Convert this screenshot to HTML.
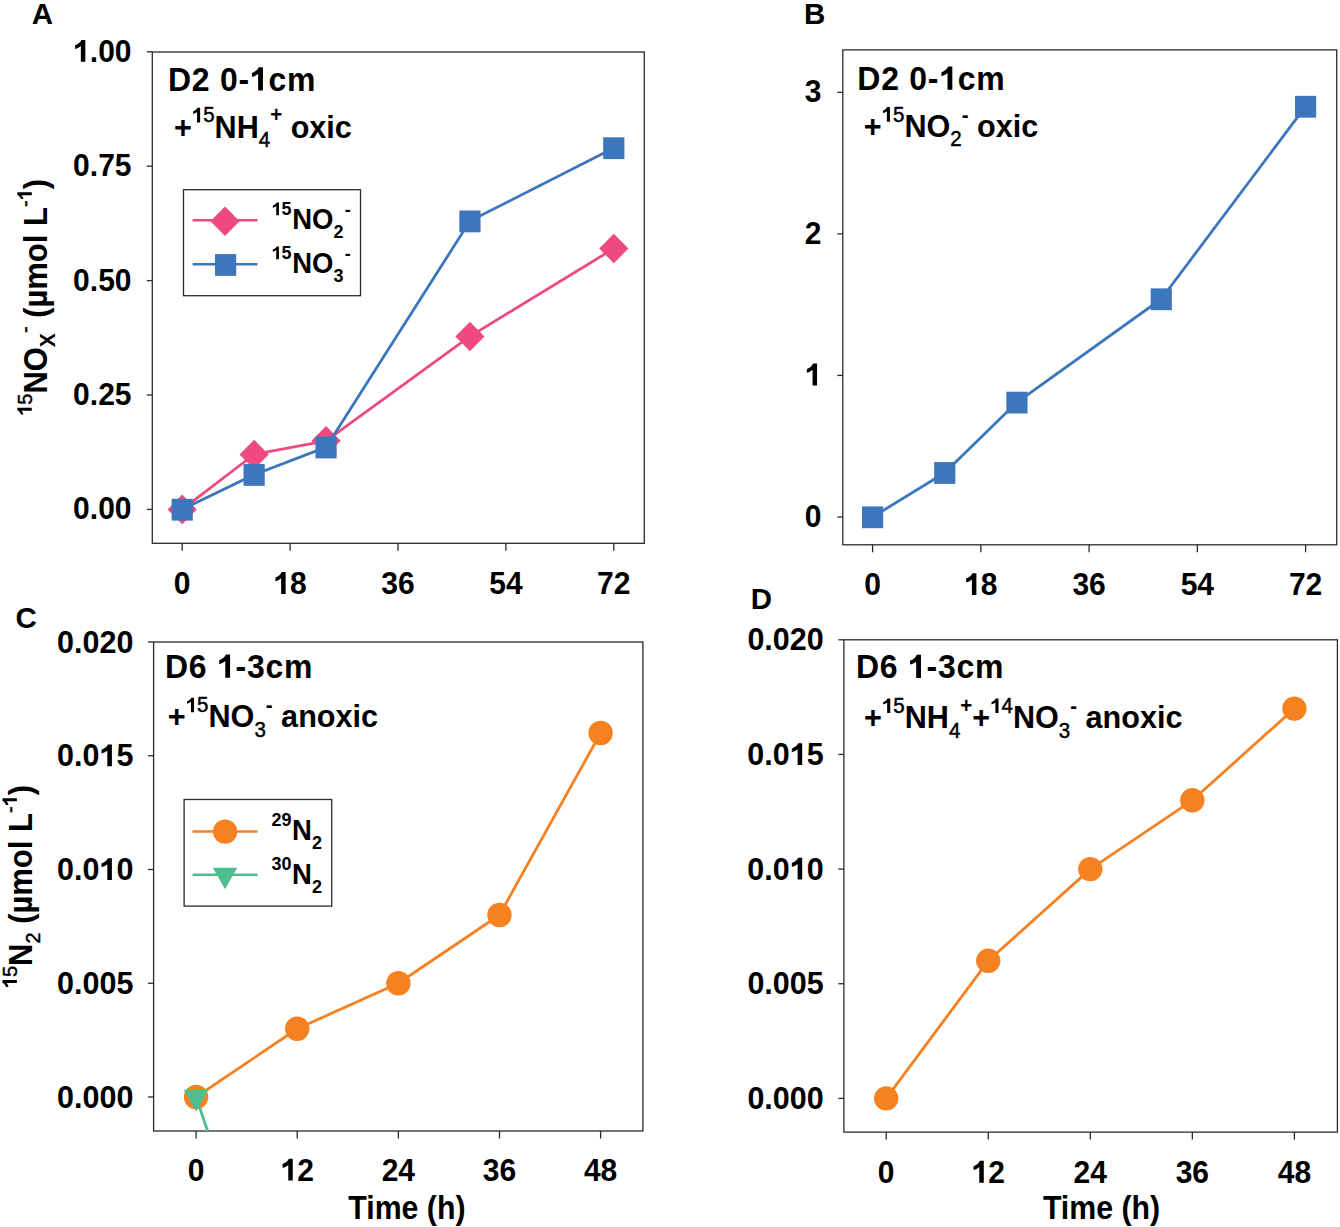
<!DOCTYPE html>
<html><head><meta charset="utf-8"><style>html,body{margin:0;padding:0;background:#fff;}svg{display:block;}text{font-family:"Liberation Sans",sans-serif;fill:#000;}.b{font-weight:bold;}.r{font-weight:normal;stroke:#000;stroke-width:0.45px;}.one{fill-opacity:0;stroke-opacity:0;}</style></head><body>
<svg width="1340" height="1227" viewBox="0 0 1340 1227">
<rect width="1340" height="1227" fill="#fff"></rect>
<defs>
<clipPath id="cA"><rect x="152.3" y="52" width="492" height="491.3"></rect></clipPath>
<clipPath id="cB"><rect x="842.8" y="49.9" width="493.9" height="494.9"></rect></clipPath>
<clipPath id="cC"><rect x="153.6" y="642" width="489.3" height="489"></rect></clipPath>
<clipPath id="cD"><rect x="843.9" y="639.8" width="493.5" height="492.3"></rect></clipPath>
</defs>
<text transform="translate(31.8,24.0) scale(1,1.03)" class="b" font-size="29.5">A</text>
<text transform="translate(804.0,23.9) scale(1,1.03)" class="b" font-size="29.5">B</text>
<text transform="translate(15.6,627.9) scale(1,1.03)" class="b" font-size="29.5">C</text>
<text transform="translate(750.8,609.3) scale(1,1.03)" class="b" font-size="29.5">D</text>
<rect x="152.3" y="52" width="492" height="491.3" fill="none" stroke="#2a2a2a" stroke-width="1.3"></rect>
<line x1="146.8" y1="509.4" x2="152.3" y2="509.4" stroke="#2a2a2a" stroke-width="1.3"></line>
<text transform="translate(131.5,519.4) scale(1,1.06)" text-anchor="end" class="b" font-size="30">0.00</text>
<line x1="146.8" y1="395" x2="152.3" y2="395" stroke="#2a2a2a" stroke-width="1.3"></line>
<text transform="translate(131.5,405) scale(1,1.06)" text-anchor="end" class="b" font-size="30">0.25</text>
<line x1="146.8" y1="280.6" x2="152.3" y2="280.6" stroke="#2a2a2a" stroke-width="1.3"></line>
<text transform="translate(131.5,290.6) scale(1,1.06)" text-anchor="end" class="b" font-size="30">0.50</text>
<line x1="146.8" y1="166.2" x2="152.3" y2="166.2" stroke="#2a2a2a" stroke-width="1.3"></line>
<text transform="translate(131.5,176.2) scale(1,1.06)" text-anchor="end" class="b" font-size="30">0.75</text>
<line x1="146.8" y1="51.8" x2="152.3" y2="51.8" stroke="#2a2a2a" stroke-width="1.3"></line>
<text transform="translate(131.5,61.8) scale(1,1.06)" text-anchor="end" class="b" font-size="30"><tspan class="one">1</tspan>.00</text>
<line x1="182.2" y1="543.3" x2="182.2" y2="550.8" stroke="#2a2a2a" stroke-width="1.3"></line>
<text transform="translate(182.2,594) scale(1,1.06)" text-anchor="middle" class="b" font-size="30">0</text>
<line x1="290.1" y1="543.3" x2="290.1" y2="550.8" stroke="#2a2a2a" stroke-width="1.3"></line>
<text transform="translate(290.1,594) scale(1,1.06)" text-anchor="middle" class="b" font-size="30"><tspan class="one">1</tspan>8</text>
<line x1="398" y1="543.3" x2="398" y2="550.8" stroke="#2a2a2a" stroke-width="1.3"></line>
<text transform="translate(398,594) scale(1,1.06)" text-anchor="middle" class="b" font-size="30">36</text>
<line x1="505.9" y1="543.3" x2="505.9" y2="550.8" stroke="#2a2a2a" stroke-width="1.3"></line>
<text transform="translate(505.9,594) scale(1,1.06)" text-anchor="middle" class="b" font-size="30">54</text>
<line x1="613.8" y1="543.3" x2="613.8" y2="550.8" stroke="#2a2a2a" stroke-width="1.3"></line>
<text transform="translate(613.8,594) scale(1,1.06)" text-anchor="middle" class="b" font-size="30">72</text>
<rect x="842.8" y="49.9" width="493.9" height="494.9" fill="none" stroke="#2a2a2a" stroke-width="1.3"></rect>
<line x1="837.3" y1="517" x2="842.8" y2="517" stroke="#2a2a2a" stroke-width="1.3"></line>
<text transform="translate(821.5,527) scale(1,1.06)" text-anchor="end" class="b" font-size="30">0</text>
<line x1="837.3" y1="375.43" x2="842.8" y2="375.43" stroke="#2a2a2a" stroke-width="1.3"></line>
<text transform="translate(821.5,385.43) scale(1,1.06)" text-anchor="end" class="b" font-size="30"><tspan class="one">1</tspan></text>
<line x1="837.3" y1="233.87" x2="842.8" y2="233.87" stroke="#2a2a2a" stroke-width="1.3"></line>
<text transform="translate(821.5,243.87) scale(1,1.06)" text-anchor="end" class="b" font-size="30">2</text>
<line x1="837.3" y1="92.3" x2="842.8" y2="92.3" stroke="#2a2a2a" stroke-width="1.3"></line>
<text transform="translate(821.5,102.3) scale(1,1.06)" text-anchor="end" class="b" font-size="30">3</text>
<line x1="872.6" y1="544.8" x2="872.6" y2="552.3" stroke="#2a2a2a" stroke-width="1.3"></line>
<text transform="translate(872.6,595.1) scale(1,1.06)" text-anchor="middle" class="b" font-size="30">0</text>
<line x1="980.85" y1="544.8" x2="980.85" y2="552.3" stroke="#2a2a2a" stroke-width="1.3"></line>
<text transform="translate(980.85,595.1) scale(1,1.06)" text-anchor="middle" class="b" font-size="30"><tspan class="one">1</tspan>8</text>
<line x1="1089.1" y1="544.8" x2="1089.1" y2="552.3" stroke="#2a2a2a" stroke-width="1.3"></line>
<text transform="translate(1089.1,595.1) scale(1,1.06)" text-anchor="middle" class="b" font-size="30">36</text>
<line x1="1197.35" y1="544.8" x2="1197.35" y2="552.3" stroke="#2a2a2a" stroke-width="1.3"></line>
<text transform="translate(1197.35,595.1) scale(1,1.06)" text-anchor="middle" class="b" font-size="30">54</text>
<line x1="1305.6" y1="544.8" x2="1305.6" y2="552.3" stroke="#2a2a2a" stroke-width="1.3"></line>
<text transform="translate(1305.6,595.1) scale(1,1.06)" text-anchor="middle" class="b" font-size="30">72</text>
<rect x="153.6" y="642" width="489.3" height="489" fill="none" stroke="#2a2a2a" stroke-width="1.3"></rect>
<line x1="148.1" y1="1097" x2="153.6" y2="1097" stroke="#2a2a2a" stroke-width="1.3"></line>
<text transform="translate(133.4,1107.5) scale(1,1.04)" text-anchor="end" class="b" font-size="30.5">0.000</text>
<line x1="148.1" y1="983.25" x2="153.6" y2="983.25" stroke="#2a2a2a" stroke-width="1.3"></line>
<text transform="translate(133.4,993.75) scale(1,1.04)" text-anchor="end" class="b" font-size="30.5">0.005</text>
<line x1="148.1" y1="869.5" x2="153.6" y2="869.5" stroke="#2a2a2a" stroke-width="1.3"></line>
<text transform="translate(133.4,880) scale(1,1.04)" text-anchor="end" class="b" font-size="30.5">0.0<tspan class="one">1</tspan>0</text>
<line x1="148.1" y1="755.75" x2="153.6" y2="755.75" stroke="#2a2a2a" stroke-width="1.3"></line>
<text transform="translate(133.4,766.25) scale(1,1.04)" text-anchor="end" class="b" font-size="30.5">0.0<tspan class="one">1</tspan>5</text>
<line x1="148.1" y1="642" x2="153.6" y2="642" stroke="#2a2a2a" stroke-width="1.3"></line>
<text transform="translate(133.4,652.5) scale(1,1.04)" text-anchor="end" class="b" font-size="30.5">0.020</text>
<line x1="196.1" y1="1131" x2="196.1" y2="1138.5" stroke="#2a2a2a" stroke-width="1.3"></line>
<text transform="translate(196.1,1180.6) scale(1,1.06)" text-anchor="middle" class="b" font-size="30">0</text>
<line x1="297.23" y1="1131" x2="297.23" y2="1138.5" stroke="#2a2a2a" stroke-width="1.3"></line>
<text transform="translate(297.23,1180.6) scale(1,1.06)" text-anchor="middle" class="b" font-size="30"><tspan class="one">1</tspan>2</text>
<line x1="398.35" y1="1131" x2="398.35" y2="1138.5" stroke="#2a2a2a" stroke-width="1.3"></line>
<text transform="translate(398.35,1180.6) scale(1,1.06)" text-anchor="middle" class="b" font-size="30">24</text>
<line x1="499.48" y1="1131" x2="499.48" y2="1138.5" stroke="#2a2a2a" stroke-width="1.3"></line>
<text transform="translate(499.48,1180.6) scale(1,1.06)" text-anchor="middle" class="b" font-size="30">36</text>
<line x1="600.6" y1="1131" x2="600.6" y2="1138.5" stroke="#2a2a2a" stroke-width="1.3"></line>
<text transform="translate(600.6,1180.6) scale(1,1.06)" text-anchor="middle" class="b" font-size="30">48</text>
<rect x="843.9" y="639.8" width="493.5" height="492.3" fill="none" stroke="#2a2a2a" stroke-width="1.3"></rect>
<line x1="838.4" y1="1098.4" x2="843.9" y2="1098.4" stroke="#2a2a2a" stroke-width="1.3"></line>
<text transform="translate(823.7,1108.9) scale(1,1.04)" text-anchor="end" class="b" font-size="30.5">0.000</text>
<line x1="838.4" y1="983.75" x2="843.9" y2="983.75" stroke="#2a2a2a" stroke-width="1.3"></line>
<text transform="translate(823.7,994.25) scale(1,1.04)" text-anchor="end" class="b" font-size="30.5">0.005</text>
<line x1="838.4" y1="869.1" x2="843.9" y2="869.1" stroke="#2a2a2a" stroke-width="1.3"></line>
<text transform="translate(823.7,879.6) scale(1,1.04)" text-anchor="end" class="b" font-size="30.5">0.0<tspan class="one">1</tspan>0</text>
<line x1="838.4" y1="754.45" x2="843.9" y2="754.45" stroke="#2a2a2a" stroke-width="1.3"></line>
<text transform="translate(823.7,764.95) scale(1,1.04)" text-anchor="end" class="b" font-size="30.5">0.0<tspan class="one">1</tspan>5</text>
<line x1="838.4" y1="639.8" x2="843.9" y2="639.8" stroke="#2a2a2a" stroke-width="1.3"></line>
<text transform="translate(823.7,650.3) scale(1,1.04)" text-anchor="end" class="b" font-size="30.5">0.020</text>
<line x1="886.2" y1="1132.1" x2="886.2" y2="1139.6" stroke="#2a2a2a" stroke-width="1.3"></line>
<text transform="translate(886.2,1182.7) scale(1,1.06)" text-anchor="middle" class="b" font-size="30">0</text>
<line x1="988.25" y1="1132.1" x2="988.25" y2="1139.6" stroke="#2a2a2a" stroke-width="1.3"></line>
<text transform="translate(988.25,1182.7) scale(1,1.06)" text-anchor="middle" class="b" font-size="30"><tspan class="one">1</tspan>2</text>
<line x1="1090.3" y1="1132.1" x2="1090.3" y2="1139.6" stroke="#2a2a2a" stroke-width="1.3"></line>
<text transform="translate(1090.3,1182.7) scale(1,1.06)" text-anchor="middle" class="b" font-size="30">24</text>
<line x1="1192.35" y1="1132.1" x2="1192.35" y2="1139.6" stroke="#2a2a2a" stroke-width="1.3"></line>
<text transform="translate(1192.35,1182.7) scale(1,1.06)" text-anchor="middle" class="b" font-size="30">36</text>
<line x1="1294.4" y1="1132.1" x2="1294.4" y2="1139.6" stroke="#2a2a2a" stroke-width="1.3"></line>
<text transform="translate(1294.4,1182.7) scale(1,1.06)" text-anchor="middle" class="b" font-size="30">48</text>
<polyline points="182.2,509.4 254.13,454.49 326.07,440.76 469.93,336.43 613.8,248.57" fill="none" stroke="#EE4A80" stroke-width="2.8" stroke-linejoin="round"></polyline>
<path d="M182.2,494.6 L196.8,509.4 L182.2,524.2 L167.6,509.4 Z" fill="#EE4A80"></path>
<path d="M254.13,439.69 L268.73,454.49 L254.13,469.29 L239.53,454.49 Z" fill="#EE4A80"></path>
<path d="M326.07,425.96 L340.67,440.76 L326.07,455.56 L311.47,440.76 Z" fill="#EE4A80"></path>
<path d="M469.93,321.63 L484.53,336.43 L469.93,351.23 L455.33,336.43 Z" fill="#EE4A80"></path>
<path d="M613.8,233.77 L628.4,248.57 L613.8,263.37 L599.2,248.57 Z" fill="#EE4A80"></path>
<polyline points="182.2,509.4 254.13,474.62 326.07,447.17 469.93,221.11 613.8,147.9" fill="none" stroke="#3C76BD" stroke-width="2.8" stroke-linejoin="round"></polyline>
<rect x="171.6" y="498.8" width="21.2" height="21.8" fill="#3C76BD"></rect>
<rect x="243.53" y="464.02" width="21.2" height="21.8" fill="#3C76BD"></rect>
<rect x="315.47" y="436.57" width="21.2" height="21.8" fill="#3C76BD"></rect>
<rect x="459.33" y="210.51" width="21.2" height="21.8" fill="#3C76BD"></rect>
<rect x="603.2" y="137.3" width="21.2" height="21.8" fill="#3C76BD"></rect>
<polyline points="872.6,517 944.77,472.69 1016.93,402.33 1161.27,298.99 1305.6,106.46" fill="none" stroke="#3C76BD" stroke-width="2.8" stroke-linejoin="round"></polyline>
<rect x="862" y="506.4" width="21.2" height="21.8" fill="#3C76BD"></rect>
<rect x="934.17" y="462.09" width="21.2" height="21.8" fill="#3C76BD"></rect>
<rect x="1006.33" y="391.73" width="21.2" height="21.8" fill="#3C76BD"></rect>
<rect x="1150.67" y="288.39" width="21.2" height="21.8" fill="#3C76BD"></rect>
<rect x="1295" y="95.86" width="21.2" height="21.8" fill="#3C76BD"></rect>
<polyline points="196.1,1097 297.23,1028.75 398.35,983.25 499.48,915 600.6,733" fill="none" stroke="#F58120" stroke-width="2.8" stroke-linejoin="round"></polyline>
<circle cx="196.1" cy="1097" r="12.2" fill="#F58120"></circle>
<circle cx="297.23" cy="1028.75" r="12.2" fill="#F58120"></circle>
<circle cx="398.35" cy="983.25" r="12.2" fill="#F58120"></circle>
<circle cx="499.48" cy="915" r="12.2" fill="#F58120"></circle>
<circle cx="600.6" cy="733" r="12.2" fill="#F58120"></circle>
<polyline points="196.1,1097 297.23,1395.03" fill="none" stroke="#4FBE8F" stroke-width="2.8" stroke-linejoin="round" clip-path="url(#cC)"></polyline>
<path d="M183.9,1090 L208.3,1090 L196.1,1111.6 Z" fill="#4FBE8F"></path>
<polyline points="886.2,1098.4 988.25,960.82 1090.3,869.1 1192.35,800.31 1294.4,708.59" fill="none" stroke="#F58120" stroke-width="2.8" stroke-linejoin="round"></polyline>
<circle cx="886.2" cy="1098.4" r="12.2" fill="#F58120"></circle>
<circle cx="988.25" cy="960.82" r="12.2" fill="#F58120"></circle>
<circle cx="1090.3" cy="869.1" r="12.2" fill="#F58120"></circle>
<circle cx="1192.35" cy="800.31" r="12.2" fill="#F58120"></circle>
<circle cx="1294.4" cy="708.59" r="12.2" fill="#F58120"></circle>
<text transform="translate(167.9,90.5) scale(1,1.055)" class="b" font-size="32" letter-spacing="0.75"><tspan class="b" font-size="32">D2 0-<tspan class="one">1</tspan>cm</tspan></text>
<text transform="translate(173.9,137.5) scale(1,1.04)" class="b" font-size="30.6"><tspan class="b" font-size="30.6">+</tspan><tspan class="r" font-size="20.5" dy="-14.5"><tspan class="one">1</tspan>5</tspan><tspan class="b" font-size="30.6" dy="14.5">NH</tspan><tspan class="r" font-size="20.5" dy="9">4</tspan><tspan class="b" font-size="20.5" dy="-23.5">+</tspan><tspan class="b" font-size="30.6" dy="14.5"> oxic</tspan></text>
<text transform="translate(857.3,89.7) scale(1,1.055)" class="b" font-size="32" letter-spacing="0.75"><tspan class="b" font-size="32">D2 0-<tspan class="one">1</tspan>cm</tspan></text>
<text transform="translate(863.7,136.8) scale(1,1.04)" class="b" font-size="30.6"><tspan class="b" font-size="30.6">+</tspan><tspan class="r" font-size="20.5" dy="-14.5"><tspan class="one">1</tspan>5</tspan><tspan class="b" font-size="30.6" dy="14.5">NO</tspan><tspan class="r" font-size="20.5" dy="9">2</tspan><tspan class="b" font-size="20.5" dy="-23.5">-</tspan><tspan class="b" font-size="30.6" dy="14.5"> oxic</tspan></text>
<text transform="translate(165,677.7) scale(1,1.055)" class="b" font-size="32" letter-spacing="0.75"><tspan class="b" font-size="32">D6 <tspan class="one">1</tspan>-3cm</tspan></text>
<text transform="translate(167.8,727.4) scale(1,1.04)" class="b" font-size="30.6"><tspan class="b" font-size="30.6">+</tspan><tspan class="r" font-size="20.5" dy="-14.5"><tspan class="one">1</tspan>5</tspan><tspan class="b" font-size="30.6" dy="14.5">NO</tspan><tspan class="r" font-size="20.5" dy="9">3</tspan><tspan class="b" font-size="20.5" dy="-23.5">-</tspan><tspan class="b" font-size="30.6" dy="14.5"> anoxic</tspan></text>
<text transform="translate(855.9,678.1) scale(1,1.055)" class="b" font-size="32" letter-spacing="0.75"><tspan class="b" font-size="32">D6 <tspan class="one">1</tspan>-3cm</tspan></text>
<text transform="translate(864,728.2) scale(1,1.04)" class="b" font-size="30.6"><tspan class="b" font-size="30.6">+</tspan><tspan class="r" font-size="20.5" dy="-14.5"><tspan class="one">1</tspan>5</tspan><tspan class="b" font-size="30.6" dy="14.5">NH</tspan><tspan class="r" font-size="20.5" dy="9">4</tspan><tspan class="b" font-size="20.5" dy="-23.5">+</tspan><tspan class="b" font-size="30.6" dy="14.5">+</tspan><tspan class="r" font-size="20.5" dy="-14.5"><tspan class="one">1</tspan>4</tspan><tspan class="b" font-size="30.6" dy="14.5">NO</tspan><tspan class="r" font-size="20.5" dy="9">3</tspan><tspan class="b" font-size="20.5" dy="-23.5">-</tspan><tspan class="b" font-size="30.6" dy="14.5"> anoxic</tspan></text>
<rect x="183.5" y="189.7" width="177" height="106" fill="#fff" stroke="#2a2a2a" stroke-width="1.3"></rect>
<line x1="192.6" y1="220.3" x2="257.4" y2="220.3" stroke="#EE4A80" stroke-width="2.5"></line>
<path d="M225,206.4 L239.6,221.2 L225,236 L210.4,221.2 Z" fill="#EE4A80"></path>
<line x1="192.6" y1="264.3" x2="257.4" y2="264.3" stroke="#3C76BD" stroke-width="2.5"></line>
<rect x="215" y="254.1" width="21.2" height="21.8" fill="#3C76BD"></rect>
<text transform="translate(271.6,229.3) scale(1,1.04)" class="b" font-size="27.5"><tspan font-size="18" dy="-13.5"><tspan class="one">1</tspan>5</tspan><tspan dy="13.5" dx="0.6">NO</tspan><tspan font-size="18" dy="8.8">2</tspan><tspan font-size="18" dy="-21.3" dx="1.2">-</tspan></text>
<text transform="translate(271.6,273.3) scale(1,1.04)" class="b" font-size="27.5"><tspan font-size="18" dy="-13.5"><tspan class="one">1</tspan>5</tspan><tspan dy="13.5" dx="0.6">NO</tspan><tspan font-size="18" dy="8.8">3</tspan><tspan font-size="18" dy="-21.3" dx="1.2">-</tspan></text>
<rect x="184.1" y="799.5" width="147.6" height="106.6" fill="#fff" stroke="#2a2a2a" stroke-width="1.3"></rect>
<line x1="192.5" y1="831.6" x2="257.5" y2="831.6" stroke="#F58120" stroke-width="2.5"></line>
<circle cx="225.1" cy="831.6" r="12.2" fill="#F58120"></circle>
<line x1="192.5" y1="874.7" x2="257.5" y2="874.7" stroke="#4FBE8F" stroke-width="2.5"></line>
<path d="M212.8,867.7 L237.2,867.7 L225,889.3 Z" fill="#4FBE8F"></path>
<text transform="translate(271.4,840) scale(1,1.04)" class="b" font-size="27.5"><tspan font-size="18" dy="-13.5">29</tspan><tspan dy="13.5" dx="0.6">N</tspan><tspan font-size="18" dy="8.8">2</tspan></text>
<text transform="translate(271.4,883.8) scale(1,1.04)" class="b" font-size="27.5"><tspan font-size="18" dy="-13.5">30</tspan><tspan dy="13.5" dx="0.6">N</tspan><tspan font-size="18" dy="8.8">2</tspan></text>
<text transform="translate(46.5,297.4) rotate(-90) scale(1,1.05)" text-anchor="middle" class="b" font-size="31"><tspan class="r" font-size="20" dy="-14"><tspan class="one">1</tspan>5</tspan><tspan class="b" font-size="31" dy="14">NO</tspan><tspan class="b" font-size="21" dy="8">X</tspan><tspan class="r" font-size="20" dy="-22">-</tspan><tspan class="b" font-size="31" dy="14"> (µmol L</tspan><tspan class="r" font-size="20" dy="-14">-<tspan class="one">1</tspan></tspan><tspan class="b" font-size="31" dy="14">)</tspan></text>
<text transform="translate(31.6,886.6) rotate(-90) scale(1,1.05)" text-anchor="middle" class="b" font-size="31"><tspan class="r" font-size="20" dy="-14"><tspan class="one">1</tspan>5</tspan><tspan class="b" font-size="31" dy="14">N</tspan><tspan class="r" font-size="20" dy="8">2</tspan><tspan class="b" font-size="31" dy="-8"> (µmol L</tspan><tspan class="r" font-size="20" dy="-14">-<tspan class="one">1</tspan></tspan><tspan class="b" font-size="31" dy="14">)</tspan></text>
<text transform="translate(348.3,1219.4) scale(1,1.07)" class="b" font-size="30.3">Time (h)</text>
<text transform="translate(1042.9,1219.4) scale(1,1.07)" class="b" font-size="30.3">Time (h)</text>
<g id="ones"><path d="M835,0 L528,0 L528,1010 C450,935 320,862 138,820 L138,1065 C235,1095 330,1145 410,1210 C490,1275 540,1340 565,1409 L835,1409 Z" transform="matrix(1.0000,0.0000,0.0000,1.0600,131.50,61.80) translate(-58.39,0.00) scale(0.01465,-0.01465)" fill="#000"></path><path d="M835,0 L528,0 L528,1010 C450,935 320,862 138,820 L138,1065 C235,1095 330,1145 410,1210 C490,1275 540,1340 565,1409 L835,1409 Z" transform="matrix(1.0000,0.0000,0.0000,1.0600,290.10,594.00) translate(-16.69,0.00) scale(0.01465,-0.01465)" fill="#000"></path><path d="M835,0 L528,0 L528,1010 C450,935 320,862 138,820 L138,1065 C235,1095 330,1145 410,1210 C490,1275 540,1340 565,1409 L835,1409 Z" transform="matrix(1.0000,0.0000,0.0000,1.0600,821.50,385.43) translate(-16.69,0.00) scale(0.01465,-0.01465)" fill="#000"></path><path d="M835,0 L528,0 L528,1010 C450,935 320,862 138,820 L138,1065 C235,1095 330,1145 410,1210 C490,1275 540,1340 565,1409 L835,1409 Z" transform="matrix(1.0000,0.0000,0.0000,1.0600,980.85,595.10) translate(-16.69,0.00) scale(0.01465,-0.01465)" fill="#000"></path><path d="M835,0 L528,0 L528,1010 C450,935 320,862 138,820 L138,1065 C235,1095 330,1145 410,1210 C490,1275 540,1340 565,1409 L835,1409 Z" transform="matrix(1.0000,0.0000,0.0000,1.0400,133.40,880.00) translate(-33.94,0.00) scale(0.01489,-0.01489)" fill="#000"></path><path d="M835,0 L528,0 L528,1010 C450,935 320,862 138,820 L138,1065 C235,1095 330,1145 410,1210 C490,1275 540,1340 565,1409 L835,1409 Z" transform="matrix(1.0000,0.0000,0.0000,1.0400,133.40,766.25) translate(-33.94,0.00) scale(0.01489,-0.01489)" fill="#000"></path><path d="M835,0 L528,0 L528,1010 C450,935 320,862 138,820 L138,1065 C235,1095 330,1145 410,1210 C490,1275 540,1340 565,1409 L835,1409 Z" transform="matrix(1.0000,0.0000,0.0000,1.0600,297.23,1180.60) translate(-16.69,0.00) scale(0.01465,-0.01465)" fill="#000"></path><path d="M835,0 L528,0 L528,1010 C450,935 320,862 138,820 L138,1065 C235,1095 330,1145 410,1210 C490,1275 540,1340 565,1409 L835,1409 Z" transform="matrix(1.0000,0.0000,0.0000,1.0400,823.70,879.60) translate(-33.94,0.00) scale(0.01489,-0.01489)" fill="#000"></path><path d="M835,0 L528,0 L528,1010 C450,935 320,862 138,820 L138,1065 C235,1095 330,1145 410,1210 C490,1275 540,1340 565,1409 L835,1409 Z" transform="matrix(1.0000,0.0000,0.0000,1.0400,823.70,764.95) translate(-33.94,0.00) scale(0.01489,-0.01489)" fill="#000"></path><path d="M835,0 L528,0 L528,1010 C450,935 320,862 138,820 L138,1065 C235,1095 330,1145 410,1210 C490,1275 540,1340 565,1409 L835,1409 Z" transform="matrix(1.0000,0.0000,0.0000,1.0600,988.25,1182.70) translate(-16.69,0.00) scale(0.01465,-0.01465)" fill="#000"></path><path d="M835,0 L528,0 L528,1010 C450,935 320,862 138,820 L138,1065 C235,1095 330,1145 410,1210 C490,1275 540,1340 565,1409 L835,1409 Z" transform="matrix(1.0000,0.0000,0.0000,1.0550,167.90,90.50) translate(81.97,0.00) scale(0.01563,-0.01563)" fill="#000"></path><path d="M835,0 L528,0 L528,1010 C450,935 320,862 138,820 L138,1065 C235,1095 330,1145 410,1210 C490,1275 540,1340 565,1409 L835,1409 Z" transform="matrix(1.0000,0.0000,0.0000,1.0400,173.90,137.50) translate(17.87,-14.50) scale(0.01001,-0.01001)" fill="#000"></path><path d="M835,0 L528,0 L528,1010 C450,935 320,862 138,820 L138,1065 C235,1095 330,1145 410,1210 C490,1275 540,1340 565,1409 L835,1409 Z" transform="matrix(1.0000,0.0000,0.0000,1.0550,857.30,89.70) translate(81.97,0.00) scale(0.01563,-0.01563)" fill="#000"></path><path d="M835,0 L528,0 L528,1010 C450,935 320,862 138,820 L138,1065 C235,1095 330,1145 410,1210 C490,1275 540,1340 565,1409 L835,1409 Z" transform="matrix(1.0000,0.0000,0.0000,1.0400,863.70,136.80) translate(17.87,-14.50) scale(0.01001,-0.01001)" fill="#000"></path><path d="M835,0 L528,0 L528,1010 C450,935 320,862 138,820 L138,1065 C235,1095 330,1145 410,1210 C490,1275 540,1340 565,1409 L835,1409 Z" transform="matrix(1.0000,0.0000,0.0000,1.0550,165.00,677.70) translate(52.03,0.00) scale(0.01563,-0.01563)" fill="#000"></path><path d="M835,0 L528,0 L528,1010 C450,935 320,862 138,820 L138,1065 C235,1095 330,1145 410,1210 C490,1275 540,1340 565,1409 L835,1409 Z" transform="matrix(1.0000,0.0000,0.0000,1.0400,167.80,727.40) translate(17.87,-14.50) scale(0.01001,-0.01001)" fill="#000"></path><path d="M835,0 L528,0 L528,1010 C450,935 320,862 138,820 L138,1065 C235,1095 330,1145 410,1210 C490,1275 540,1340 565,1409 L835,1409 Z" transform="matrix(1.0000,0.0000,0.0000,1.0550,855.90,678.10) translate(52.03,0.00) scale(0.01563,-0.01563)" fill="#000"></path><path d="M835,0 L528,0 L528,1010 C450,935 320,862 138,820 L138,1065 C235,1095 330,1145 410,1210 C490,1275 540,1340 565,1409 L835,1409 Z" transform="matrix(1.0000,0.0000,0.0000,1.0400,864.00,728.20) translate(17.87,-14.50) scale(0.01001,-0.01001)" fill="#000"></path><path d="M835,0 L528,0 L528,1010 C450,935 320,862 138,820 L138,1065 C235,1095 330,1145 410,1210 C490,1275 540,1340 565,1409 L835,1409 Z" transform="matrix(1.0000,0.0000,0.0000,1.0400,864.00,728.20) translate(126.14,-14.50) scale(0.01001,-0.01001)" fill="#000"></path><path d="M835,0 L528,0 L528,1010 C450,935 320,862 138,820 L138,1065 C235,1095 330,1145 410,1210 C490,1275 540,1340 565,1409 L835,1409 Z" transform="matrix(1.0000,0.0000,0.0000,1.0400,271.60,229.30) translate(0.00,-13.50) scale(0.00879,-0.00879)" fill="#000"></path><path d="M835,0 L528,0 L528,1010 C450,935 320,862 138,820 L138,1065 C235,1095 330,1145 410,1210 C490,1275 540,1340 565,1409 L835,1409 Z" transform="matrix(1.0000,0.0000,0.0000,1.0400,271.60,273.30) translate(0.00,-13.50) scale(0.00879,-0.00879)" fill="#000"></path><path d="M835,0 L528,0 L528,1010 C450,935 320,862 138,820 L138,1065 C235,1095 330,1145 410,1210 C490,1275 540,1340 565,1409 L835,1409 Z" transform="matrix(0.0000,-1.0000,1.0500,0.0000,46.50,297.40) translate(-118.46,-14.00) scale(0.00977,-0.00977)" fill="#000"></path><path d="M835,0 L528,0 L528,1010 C450,935 320,862 138,820 L138,1065 C235,1095 330,1145 410,1210 C490,1275 540,1340 565,1409 L835,1409 Z" transform="matrix(0.0000,-1.0000,1.0500,0.0000,46.50,297.40) translate(97.00,-14.00) scale(0.00977,-0.00977)" fill="#000"></path><path d="M835,0 L528,0 L528,1010 C450,935 320,862 138,820 L138,1065 C235,1095 330,1145 410,1210 C490,1275 540,1340 565,1409 L835,1409 Z" transform="matrix(0.0000,-1.0000,1.0500,0.0000,31.60,886.60) translate(-101.64,-14.00) scale(0.00977,-0.00977)" fill="#000"></path><path d="M835,0 L528,0 L528,1010 C450,935 320,862 138,820 L138,1065 C235,1095 330,1145 410,1210 C490,1275 540,1340 565,1409 L835,1409 Z" transform="matrix(0.0000,-1.0000,1.0500,0.0000,31.60,886.60) translate(80.18,-14.00) scale(0.00977,-0.00977)" fill="#000"></path></g></svg></body></html>
